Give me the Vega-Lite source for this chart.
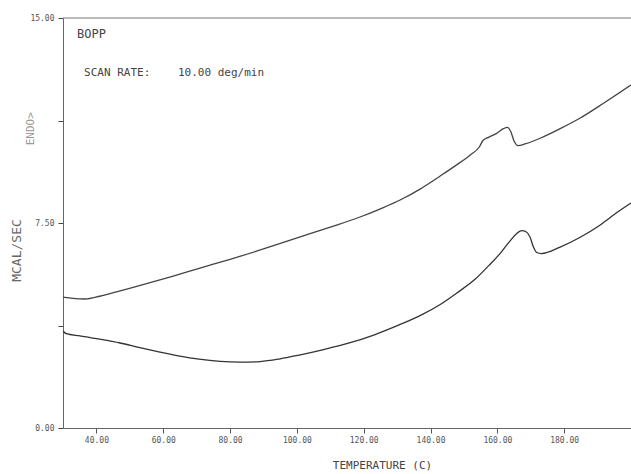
{
  "$schema": "https://vega.github.io/schema/vega-lite/v6.json",
  "autosize": "none",
  "width": 568,
  "height": 410,
  "padding": {"left": 63, "top": 18, "right": 0, "bottom": 46},
  "background": "white",
  "config": {
    "view": {"stroke": null},
    "font": "DejaVu Sans Mono",
    "axis": {"labelFont": "DejaVu Sans Mono", "titleFont": "DejaVu Sans Mono", "grid": false}
  },
  "datasets": {
    "curves": [
      {"T": 30, "v": 4.79, "run": "upper"},
      {"T": 33, "v": 4.74, "run": "upper"},
      {"T": 36.6, "v": 4.72, "run": "upper"},
      {"T": 41, "v": 4.82, "run": "upper"},
      {"T": 47.1, "v": 5.02, "run": "upper"},
      {"T": 55, "v": 5.28, "run": "upper"},
      {"T": 63, "v": 5.56, "run": "upper"},
      {"T": 71, "v": 5.85, "run": "upper"},
      {"T": 80, "v": 6.17, "run": "upper"},
      {"T": 90, "v": 6.55, "run": "upper"},
      {"T": 101, "v": 6.99, "run": "upper"},
      {"T": 110, "v": 7.35, "run": "upper"},
      {"T": 118.9, "v": 7.72, "run": "upper"},
      {"T": 125, "v": 8.02, "run": "upper"},
      {"T": 130.9, "v": 8.34, "run": "upper"},
      {"T": 137, "v": 8.75, "run": "upper"},
      {"T": 142.9, "v": 9.22, "run": "upper"},
      {"T": 147.5, "v": 9.6, "run": "upper"},
      {"T": 151.9, "v": 9.99, "run": "upper"},
      {"T": 154.6, "v": 10.28, "run": "upper"},
      {"T": 155.7, "v": 10.52, "run": "upper"},
      {"T": 157.5, "v": 10.64, "run": "upper"},
      {"T": 159.8, "v": 10.78, "run": "upper"},
      {"T": 161.8, "v": 10.95, "run": "upper"},
      {"T": 163.0, "v": 11.0, "run": "upper"},
      {"T": 164.0, "v": 10.85, "run": "upper"},
      {"T": 165.0, "v": 10.5, "run": "upper"},
      {"T": 166.2, "v": 10.33, "run": "upper"},
      {"T": 168.5, "v": 10.4, "run": "upper"},
      {"T": 172.8, "v": 10.6, "run": "upper"},
      {"T": 178.8, "v": 10.95, "run": "upper"},
      {"T": 184.8, "v": 11.34, "run": "upper"},
      {"T": 192, "v": 11.9, "run": "upper"},
      {"T": 200, "v": 12.55, "run": "upper"},
      {"T": 30, "v": 3.55, "run": "lower"},
      {"T": 31, "v": 3.45, "run": "lower"},
      {"T": 35.1, "v": 3.37, "run": "lower"},
      {"T": 41, "v": 3.25, "run": "lower"},
      {"T": 47.1, "v": 3.11, "run": "lower"},
      {"T": 53, "v": 2.94, "run": "lower"},
      {"T": 59, "v": 2.78, "run": "lower"},
      {"T": 65, "v": 2.63, "run": "lower"},
      {"T": 70.7, "v": 2.52, "run": "lower"},
      {"T": 77, "v": 2.44, "run": "lower"},
      {"T": 83, "v": 2.41, "run": "lower"},
      {"T": 89, "v": 2.43, "run": "lower"},
      {"T": 95, "v": 2.53, "run": "lower"},
      {"T": 100.7, "v": 2.67, "run": "lower"},
      {"T": 108, "v": 2.87, "run": "lower"},
      {"T": 115.7, "v": 3.11, "run": "lower"},
      {"T": 123, "v": 3.4, "run": "lower"},
      {"T": 130.6, "v": 3.77, "run": "lower"},
      {"T": 137, "v": 4.12, "run": "lower"},
      {"T": 142.9, "v": 4.52, "run": "lower"},
      {"T": 148, "v": 4.95, "run": "lower"},
      {"T": 153.4, "v": 5.45, "run": "lower"},
      {"T": 157.5, "v": 5.95, "run": "lower"},
      {"T": 160.8, "v": 6.38, "run": "lower"},
      {"T": 163.5, "v": 6.8, "run": "lower"},
      {"T": 165.5, "v": 7.08, "run": "lower"},
      {"T": 167.3, "v": 7.22, "run": "lower"},
      {"T": 168.6, "v": 7.18, "run": "lower"},
      {"T": 169.8, "v": 6.98, "run": "lower"},
      {"T": 170.8, "v": 6.62, "run": "lower"},
      {"T": 171.8, "v": 6.42, "run": "lower"},
      {"T": 173.2, "v": 6.38, "run": "lower"},
      {"T": 178.8, "v": 6.62, "run": "lower"},
      {"T": 184.8, "v": 6.98, "run": "lower"},
      {"T": 190.8, "v": 7.43, "run": "lower"},
      {"T": 196, "v": 7.9, "run": "lower"},
      {"T": 200, "v": 8.23, "run": "lower"}
    ]
  },
  "layer": [
    {
      "data": {"name": "curves"},
      "mark": {"type": "line", "strokeWidth": 1.3, "interpolate": "monotone", "clip": true},
      "encoding": {
        "x": {
          "field": "T", "type": "quantitative",
          "scale": {"domain": [30, 200], "nice": false, "zero": false},
          "axis": {
            "values": [40, 60, 80, 100, 120, 140, 160, 180],
            "format": ".2f",
            "title": "TEMPERATURE  (C)",
            "titleFontSize": 11, "titleFontWeight": "normal", "titleColor": "#444",
            "titleX": 319, "titleY": 37, "titleBaseline": "middle",
            "labelFontSize": 8, "labelColor": "#555", "labelPadding": 3,
            "tickSize": 5, "tickColor": "#555", "domainColor": "#666"
          }
        },
        "y": {
          "field": "v", "type": "quantitative",
          "scale": {"domain": [0, 15], "nice": false},
          "axis": {
            "values": [0, 3.75, 7.5, 11.25, 15],
            "labelExpr": "(datum.value == 0 || datum.value == 7.5 || datum.value == 15) ? format(datum.value, '.2f') : ''",
            "title": "MCAL/SEC",
            "titleFontSize": 13, "titleFontWeight": "normal", "titleColor": "#666",
            "titleX": -40, "titleY": 232,
            "labelFontSize": 8, "labelColor": "#555", "labelPadding": 4,
            "tickSize": 5, "tickColor": "#444", "domainColor": "#666"
          }
        },
        "color": {
          "field": "run", "type": "nominal",
          "scale": {"domain": ["upper", "lower"], "range": ["#444", "#333"]},
          "legend": null
        },
        "detail": {"field": "run"}
      }
    },
    {
      "data": {"values": [{"T": 30, "v": 15}, {"T": 200, "v": 15}]},
      "mark": {"type": "rule", "color": "#777", "strokeWidth": 1},
      "encoding": {
        "x": {"aggregate": "min", "field": "T", "type": "quantitative"},
        "x2": {"aggregate": "max", "field": "T"},
        "y": {"aggregate": "max", "field": "v", "type": "quantitative"}
      }
    },
    {
      "data": {"values": [{"T": 34.2, "v": 14.4, "label": "BOPP"}]},
      "mark": {"type": "text", "align": "left", "baseline": "middle", "fontSize": 12, "color": "#444"},
      "encoding": {
        "x": {"field": "T", "type": "quantitative"},
        "y": {"field": "v", "type": "quantitative"},
        "text": {"field": "label"}
      }
    },
    {
      "data": {"values": [
        {"T": 36.3, "v": 13.0, "label": "SCAN RATE:"},
        {"T": 64.4, "v": 13.0, "label": "10.00 deg/min"}
      ]},
      "mark": {"type": "text", "align": "left", "baseline": "middle", "fontSize": 11, "color": "#444"},
      "encoding": {
        "x": {"field": "T", "type": "quantitative"},
        "y": {"field": "v", "type": "quantitative"},
        "text": {"field": "label"}
      }
    },
    {
      "data": {"values": [{"T": 20.5, "v": 10.95, "label": "ENDO>"}]},
      "mark": {"type": "text", "align": "center", "baseline": "middle", "angle": 270, "fontSize": 11, "color": "#999", "clip": false},
      "encoding": {
        "x": {"field": "T", "type": "quantitative"},
        "y": {"field": "v", "type": "quantitative"},
        "text": {"field": "label"}
      }
    }
  ]
}
